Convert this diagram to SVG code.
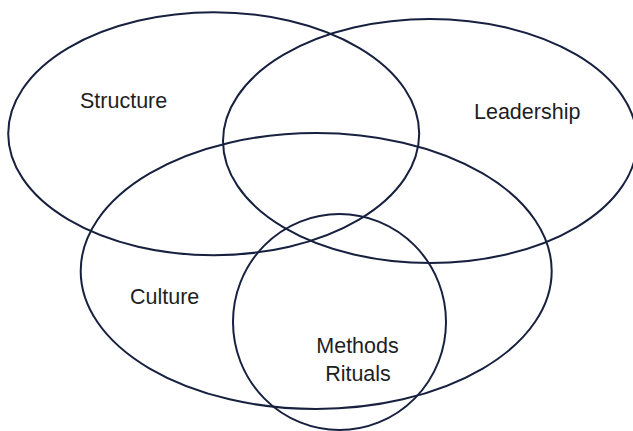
<svg xmlns="http://www.w3.org/2000/svg" width="633" height="431" viewBox="0 0 633 431">
  <style>
    .set { fill: none; stroke: #17213f; stroke-width: 2; }
    .label { font-family: "Liberation Sans", Arial, sans-serif; font-size: 21.5px; fill: #1e1e1e; }
  </style>
  <rect width="633" height="431" fill="#ffffff"/>
  <g id="structure">
    <ellipse class="set" cx="213.7" cy="133.7" rx="205.5" ry="121.5"/>
    <text class="label" x="80" y="108">Structure</text>
  </g>
  <g id="leadership">
    <ellipse class="set" cx="430" cy="141" rx="207" ry="122"/>
    <text class="label" x="474" y="119">Leadership</text>
  </g>
  <g id="culture">
    <ellipse class="set" cx="316.2" cy="271" rx="235.5" ry="138"/>
    <text class="label" x="130" y="304">Culture</text>
  </g>
  <g id="methods">
    <ellipse class="set" cx="339.5" cy="322" rx="106.5" ry="108"/>
    <text class="label" text-anchor="middle" x="357.5" y="352.7">Methods</text>
    <text class="label" text-anchor="middle" x="358" y="381">Rituals</text>
  </g>
  <g id="connectors"/>
</svg>
